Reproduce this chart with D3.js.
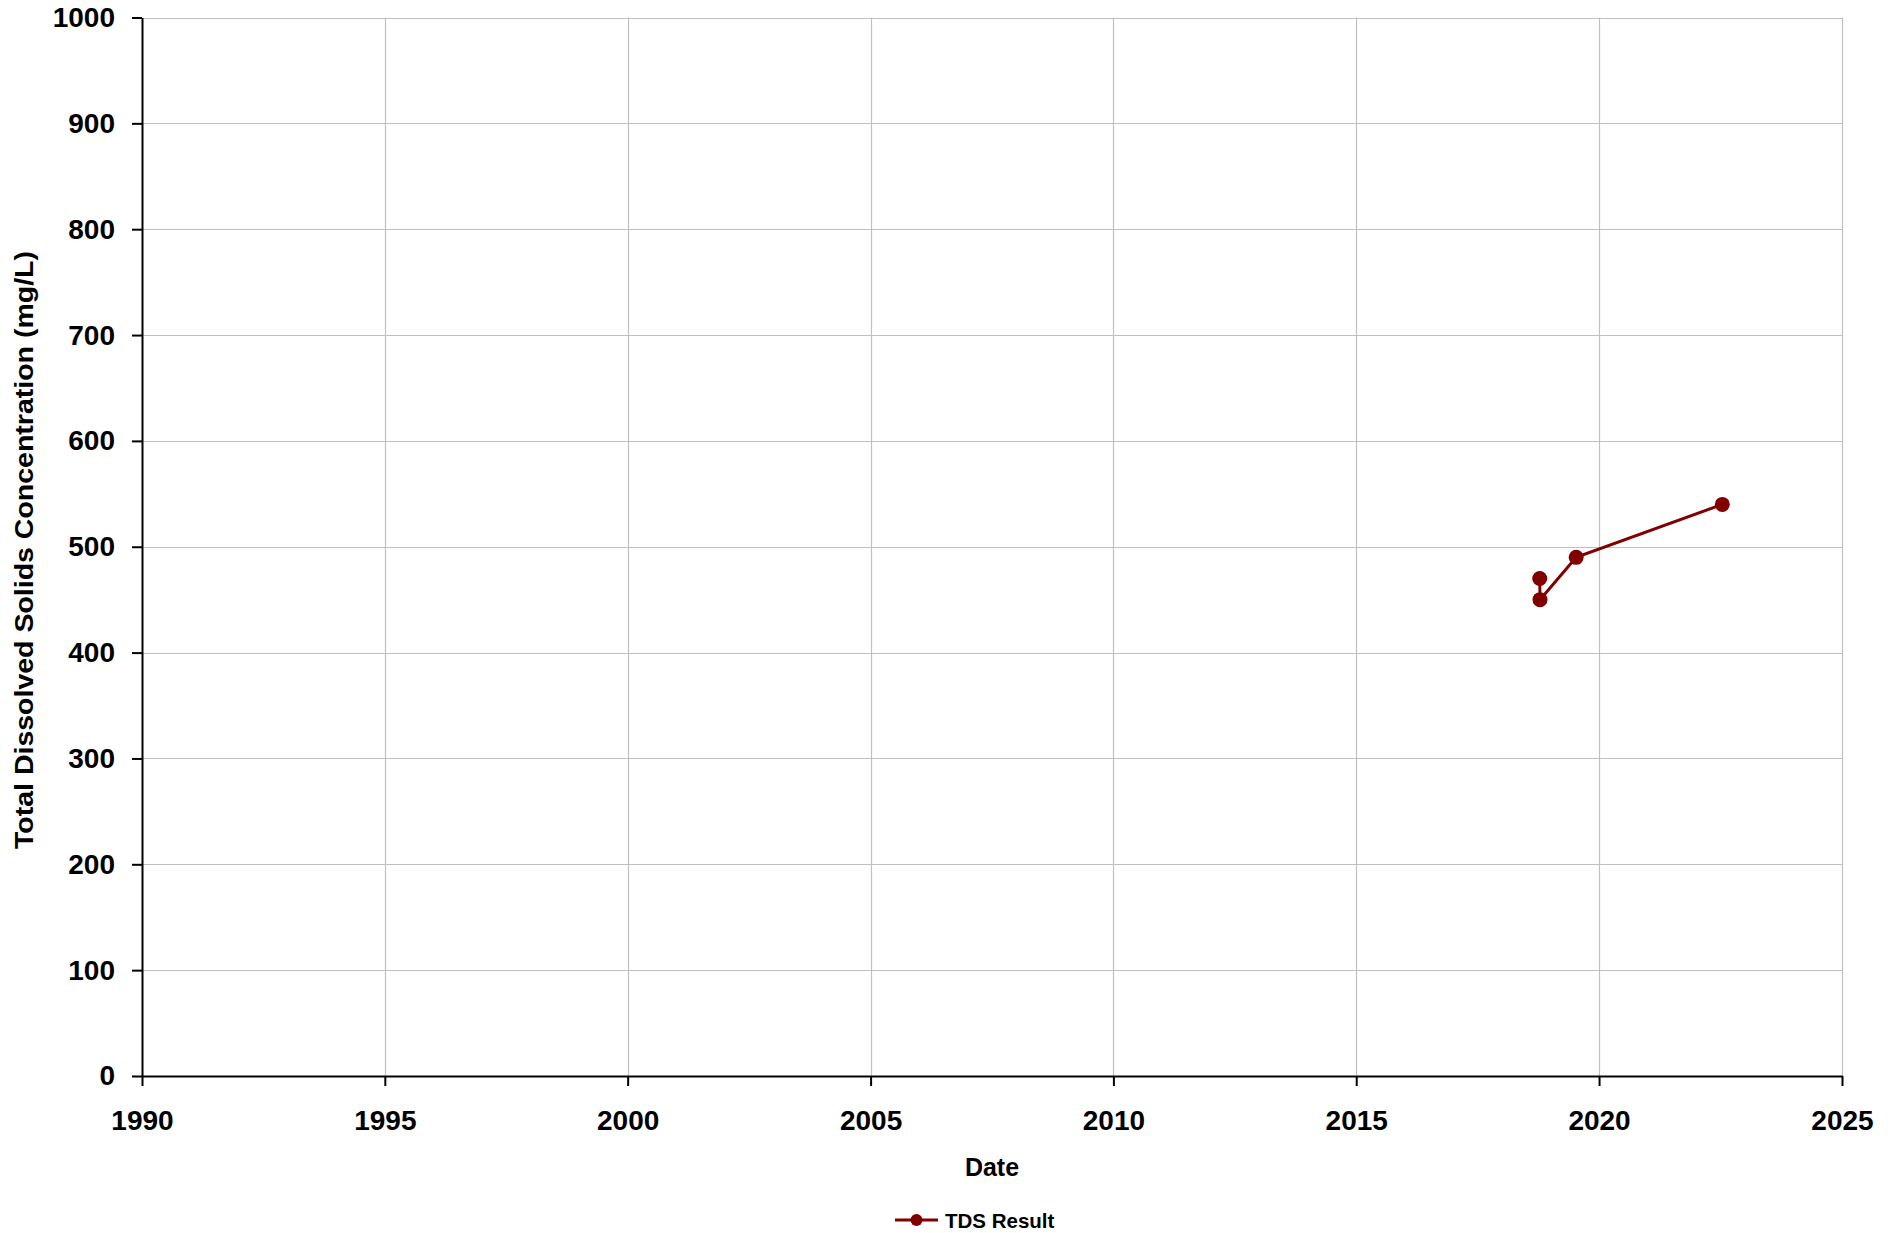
<!DOCTYPE html>
<html>
<head>
<meta charset="utf-8">
<script src="https://cdn.jsdelivr.net/npm/d3@7"></script>
<style>
  html, body { margin: 0; padding: 0; background: #fff; }
  svg { display: block; font-family: "Liberation Sans", Arial, sans-serif; }
</style>
</head>
<body>
<svg id="chart" width="1895" height="1233"></svg>
<script>
const sampleDates = ["2018-10-12", "2018-10-14", "2019-07-13", "2022-07-16"];
const tdsValues = [470, 450, 490, 540];
const xTickYears = [1990, 1995, 2000, 2005, 2010, 2015, 2020, 2025];
const yTickValues = [0, 100, 200, 300, 400, 500, 600, 700, 800, 900, 1000];
const seriesName = "TDS Result";
const xTitle = "Date";
const yTitle = "Total Dissolved Solids Concentration (mg/L)";

const parse = d3.timeParse("%Y-%m-%d");
const data = sampleDates.map((d, i) => ({ date: parse(d), value: tdsValues[i] }));

const margin = { left: 142, right: 53, top: 17.5, bottom: 157 };
const W = 1895, H = 1233;
const svg = d3.select("#chart");

const x = d3.scaleTime()
  .domain([new Date(1990, 0, 1), new Date(2025, 0, 1)])
  .range([margin.left, W - margin.right]);
const y = d3.scaleLinear()
  .domain([0, 1000])
  .range([H - margin.bottom, margin.top]);

const color = "#800000";
const grid = "#c0c0c0";

// gridlines
svg.append("g").selectAll("line.h").data(yTickValues.filter(v => v > 0)).join("line")
  .attr("x1", x.range()[0]).attr("x2", x.range()[1])
  .attr("y1", d => Math.round(y(d)) + 0.5).attr("y2", d => Math.round(y(d)) + 0.5)
  .attr("stroke", grid).attr("stroke-width", 1.2);
svg.append("g").selectAll("line.v").data(xTickYears.slice(1)).join("line")
  .attr("x1", d => Math.round(x(new Date(d, 0, 1))) + 0.5)
  .attr("x2", d => Math.round(x(new Date(d, 0, 1))) + 0.5)
  .attr("y1", y.range()[1]).attr("y2", y.range()[0])
  .attr("stroke", grid).attr("stroke-width", 1.2);

// axes
const xAxis = d3.axisBottom(x)
  .tickValues(xTickYears.map(yr => new Date(yr, 0, 1)))
  .tickFormat(d3.timeFormat("%Y"))
  .tickSize(10).tickSizeOuter(0).tickPadding(24);
const gx = svg.append("g").attr("transform", `translate(0,${y(0)})`).call(xAxis);
gx.select(".domain").attr("stroke", "#000").attr("stroke-width", 2);
gx.selectAll(".tick line").attr("stroke", "#000").attr("stroke-width", 2);
gx.selectAll(".tick text").attr("font-size", 28).attr("font-weight", "bold")
  .attr("fill", "#000").attr("font-family", "Liberation Sans, Arial, sans-serif");

const yAxis = d3.axisLeft(y)
  .tickValues(yTickValues)
  .tickFormat(d3.format("d"))
  .tickSize(10).tickSizeOuter(0).tickPadding(17);
const gy = svg.append("g").attr("transform", `translate(${x.range()[0]},0)`).call(yAxis);
gy.select(".domain").attr("stroke", "#000").attr("stroke-width", 2);
gy.selectAll(".tick line").attr("stroke", "#000").attr("stroke-width", 2);
gy.selectAll(".tick text").attr("font-size", 28).attr("font-weight", "bold")
  .attr("fill", "#000").attr("font-family", "Liberation Sans, Arial, sans-serif");

// axis titles
svg.append("text")
  .attr("x", (x.range()[0] + x.range()[1]) / 2).attr("y", 1176)
  .attr("text-anchor", "middle").attr("font-size", 25).attr("font-weight", "bold")
  .text(xTitle);
svg.append("text")
  .attr("transform", `translate(33,550) rotate(-90)`)
  .attr("text-anchor", "middle").attr("font-size", 26).attr("font-weight", "bold")
  .attr("textLength", 598).attr("lengthAdjust", "spacingAndGlyphs")
  .text(yTitle);

// series
const line = d3.line().x(d => x(d.date)).y(d => y(d.value));
svg.append("path").datum(data)
  .attr("d", line).attr("fill", "none").attr("stroke", color).attr("stroke-width", 3);
svg.append("g").selectAll("circle").data(data).join("circle")
  .attr("cx", d => x(d.date)).attr("cy", d => y(d.value)).attr("r", 7.5)
  .attr("fill", color);

// legend
const lg = svg.append("g").attr("transform", "translate(895,1220)");
lg.append("line").attr("x1", 0).attr("x2", 43).attr("y1", 0).attr("y2", 0)
  .attr("stroke", color).attr("stroke-width", 3);
lg.append("circle").attr("cx", 21.5).attr("cy", 0).attr("r", 6).attr("fill", color);
lg.append("text").attr("x", 50).attr("y", 7.5)
  .attr("font-size", 20.5).attr("font-weight", "bold").text(seriesName);
</script>
</body>
</html>
